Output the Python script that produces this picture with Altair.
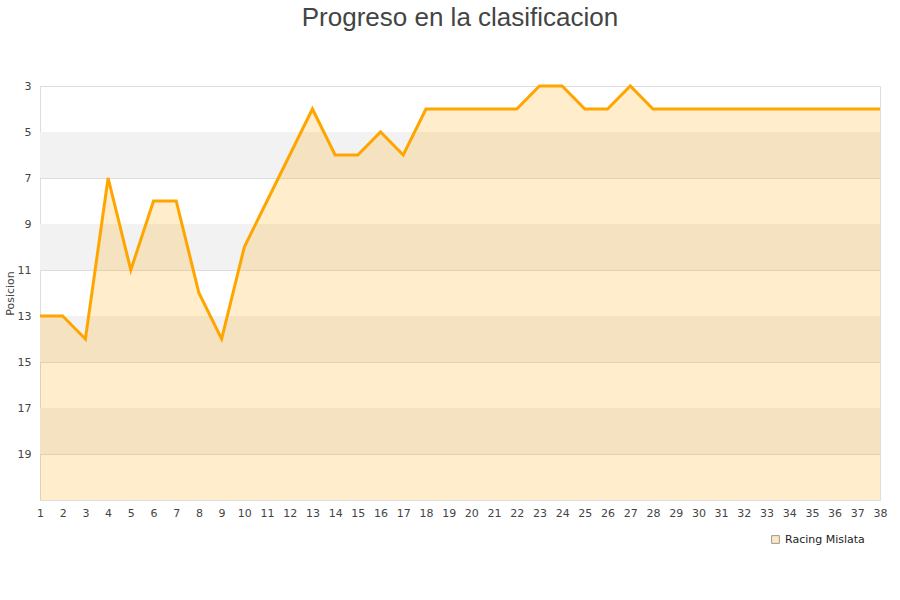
import altair as alt
import pandas as pd

# Matchday-by-matchday league position
jornadas = list(range(1, 39))
posiciones = [13, 13, 14, 7, 11, 8, 8, 12, 14, 10,
              8, 6, 4, 6, 6, 5, 6, 4, 4, 4,
              4, 4, 3, 3, 4, 4, 3, 4, 4, 4,
              4, 4, 4, 4, 4, 4, 4, 4]
equipo = "Racing Mislata"

# Alternating background stripes (position ranges)
band_start = [5, 9, 13, 17]
band_end = [7, 11, 15, 19]

y_ticks = [3, 5, 7, 9, 11, 13, 15, 17, 19]
y_min, y_max = 3, 21

df = pd.DataFrame({"jornada": jornadas, "posicion": posiciones, "equipo": equipo})
bands = pd.DataFrame({"y0": band_start, "y1": band_end})

y_scale = alt.Scale(domain=[y_min, y_max], reverse=True, nice=False, zero=False)
x_scale = alt.Scale(domain=[1, 38], nice=False, zero=False)

x_axis = alt.Axis(values=jornadas, title=None, grid=False,
                  labelAngle=0, domain=False, ticks=False,
                  labelPadding=7, labelFlush=False, labelOverlap=False)

stripes = alt.Chart(bands).mark_rect(color="#f2f2f2").encode(
    x=alt.value(0),
    x2=alt.value(840),
    y=alt.Y("y0:Q", scale=y_scale,
            axis=alt.Axis(values=y_ticks, title="Posicion", grid=True,
                          gridColor="#dddddd", domain=False, ticks=False,
                          labelPadding=9, titlePadding=2)),
    y2="y1:Q",
)

area = alt.Chart(df).mark_area(color="#ffa500", opacity=0.2).encode(
    x=alt.X("jornada:Q", scale=x_scale, axis=x_axis),
    y=alt.Y("posicion:Q", scale=y_scale),
    y2=alt.datum(y_max),
)

line = alt.Chart(df).mark_line(color="#ffa500", strokeWidth=3).encode(
    x=alt.X("jornada:Q", scale=x_scale, axis=x_axis),
    y=alt.Y("posicion:Q", scale=y_scale),
)

legend_layer = alt.Chart(df).mark_square(opacity=0).encode(
    x=alt.X("jornada:Q", scale=x_scale, axis=x_axis),
    y=alt.Y("posicion:Q", scale=y_scale),
    fill=alt.Fill("equipo:N", scale=alt.Scale(range=["#fde8c2"]),
                  legend=alt.Legend(title=None, orient="none",
                                    legendX=730, legendY=448,
                                    symbolType="square", symbolOpacity=1,
                                    symbolStrokeColor="#999999",
                                    symbolStrokeWidth=1, symbolSize=60,
                                    labelFontSize=11, labelColor="#222222",
                                    labelFont="DejaVu Sans")),
)

chart = alt.layer(stripes, area, line, legend_layer).properties(
    width=840,
    height=414,
    autosize=alt.AutoSizeParams(type="none"),
    padding={"left": 40, "top": 86, "right": 20, "bottom": 100},
    title=alt.TitleParams("Progreso en la clasificacion", fontSize=26,
                          font="Liberation Sans", fontWeight="normal",
                          color="#444444", anchor="middle", offset=49),
).configure_view(
    stroke="#dddddd", strokeWidth=1
).configure_axis(
    labelFont="DejaVu Sans", labelFontSize=11, labelColor="#444444",
    titleFont="DejaVu Sans", titleFontSize=11, titleColor="#444444",
    titleFontWeight="normal",
).configure_axisX(
    labelOverlap=False
)

chart.save("out.html", embed_options={"renderer": "svg", "actions": False})
